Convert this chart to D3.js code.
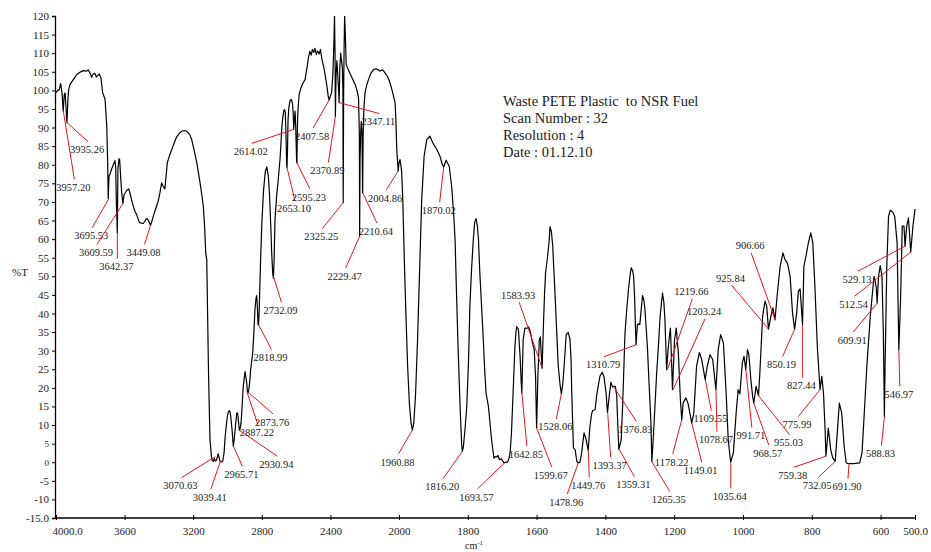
<!DOCTYPE html>
<html>
<head>
<meta charset="utf-8">
<script src="https://cdn.jsdelivr.net/npm/d3@7"></script>
<style>
  body { margin: 0; background: #fff; }
  text { font-family: "Liberation Serif", "Times New Roman", serif; fill: #222; }
</style>
</head>
<body>
<svg id="chart" width="931" height="552"></svg>
<script>
// FTIR spectrum
const wavenumber = [4000,3990,3981,3973,3965,3958,3952,3947,3941,3936,3930,3926,3918,3899,3880,3860,3840,3821,3812,3800,3792,3783,3773,3765,3759,3748,3738,3728,3714,3704,3699,3695.5,3691,3685,3676,3666,3656,3652,3648,3642.4,3639,3633,3629,3622,3616,3609.6,3603,3594,3584,3576,3569,3559,3549,3540,3530,3522,3514,3502,3491,3482,3475,3469,3463,3457,3449,3441,3433,3418,3404,3394,3384,3375,3365,3351,3338,3325,3310,3296,3280,3267,3252,3238,3222,3209,3195,3179,3170,3160,3150,3141,3133,3127,3121,3116,3112,3107,3102,3092,3083,3077,3071,3065,3059,3054,3050,3044,3036,3028,3020,3015,3008,3001,2995,2990,2985,2981,2973,2966,2960,2954,2946,2942,2939,2935,2931,2926,2921,2915,2908,2898,2893,2888,2884,2880,2876,2873,2869,2865,2853,2846,2840,2834,2830,2826,2822,2819,2815,2811,2807,2800,2790,2780,2771,2762,2755,2748,2742,2736,2732,2728,2723,2713,2704,2694,2689,2684,2677,2671,2667,2663,2659,2655,2653,2650,2647,2642,2636,2630,2626,2621,2617,2614,2610,2606,2602,2597,2595,2593,2591,2586,2582,2575,2568,2558,2548,2535,2528,2520,2512,2505,2497,2490,2482,2475,2465,2458,2450,2440,2430,2420,2413,2407.6,2400,2393,2386,2380,2376,2373,2371,2367,2362,2357,2352,2349,2345,2340,2335,2330,2327,2325.3,2323,2320,2317,2313,2308,2300,2285,2270,2255,2245,2236,2231,2229.5,2227,2223,2220,2216,2212,2209,2205,2198,2188,2178,2165,2150,2135,2120,2111,2095,2082,2068,2056,2046,2037,2023,2018,2013,2008,2004.9,2000,1997,1994,1992,1989,1985,1980,1975,1970,1965,1961,1957,1952,1946,1940,1934,1927,1919,1910,1902,1890,1881,1874,1870,1863,1854,1847,1844,1840,1837,1833,1828,1822,1818,1816,1813,1808,1803,1798,1794,1789,1784,1780,1776,1772,1769,1765,1760,1755,1751,1747,1743,1740,1736,1731,1724,1720,1716,1712,1708,1702,1695,1690,1685,1681,1677,1673,1670,1666,1663,1660,1658,1653,1648,1645,1643,1639,1634,1628,1623,1618,1614,1607,1603,1600,1596,1592,1589,1587,1584,1580,1577,1574,1568,1564,1561,1557,1553,1551,1547,1542,1537,1532,1528,1524,1520,1514,1508,1503,1500,1498,1493,1488,1483,1479,1474,1469,1466,1462,1456,1450,1445,1440,1437,1430,1425,1421,1416,1409,1404,1398,1394,1389,1384,1379,1376,1371,1367,1364,1361,1354,1350,1343,1338,1333,1328,1325,1321,1318,1315,1313,1311,1307,1303,1300,1296,1292,1288,1285,1278,1273,1268,1265,1261,1256,1251,1246,1241,1234,1230,1227,1222,1218,1215,1211,1208,1205,1199,1194,1188,1182,1178,1174,1166,1160,1149,1143,1135,1127,1120,1110,1104,1096,1088,1078.7,1072,1065,1057,1049,1043,1036,1028,1020,1014,1009,1002,997,992,987,983,977,972,968.6,962,955,951,943,936,931,926,919,913,907,900,892,884,878,871,863,856,850,844,839,834,827,823,817,810,803,797,791,784,776,771,766,761,759,752,745,739,732,726,720,713,706,700,692,679,661,654,648,640,630,622,619,613,610,606,601,596,592,589,587,582,577,572,564,559,552,547,542,537,532,529,524,519,512.5,506,500];
const transmittance = [99.4,100.0,100.2,101.8,99.4,94.4,98.8,99.3,95,91.3,98,100.2,101.6,102.9,104.2,104.9,105.3,105.2,105.5,104.5,103.5,104.4,104.6,103.6,103.9,104.4,103.4,99.4,97.6,90.4,81.4,70.8,76.9,77.5,78.8,80,81.1,79.5,70,61.7,78.7,81.6,81.5,76,72,69.6,72,72.6,73.3,73.5,72.4,70.5,68.8,67.5,66.6,65.5,64.5,64.3,64.2,64.8,65.4,65.5,65.2,64.6,63.7,64.8,66.1,68.3,70.2,72.5,75.1,74.2,73.5,80.5,82.5,84.1,86,87.5,88.5,89,89.2,89,88.3,86.8,84,80.5,78,75.1,72,68.8,63,56.3,54.5,40,27.6,16,6,0.7,0.2,1.1,0.3,0.5,1.4,2.3,1.5,0.2,0.1,0.2,2.5,6,9.5,12.3,13.5,13.9,13.4,12.3,8.5,4.3,6.5,9.6,13.2,13.3,12.5,10.5,8.6,9.2,10.5,15,20.4,24.4,23,21.3,19.2,18.6,19.5,20.4,22.5,24.9,29.4,35,41,44,44.8,42,37,36.9,41,48,54.5,64,73,78,79.4,77,72,64,56,50.5,49.5,55,65.3,72,76,81.4,85,89.5,93,94.7,94.8,94,88,80,79.2,84,92.2,95.5,97.1,97.6,97.4,96.3,94,89.5,92,94.4,90,81,80.5,88,93,96.8,98.9,100.2,101.1,102.1,102.9,106.5,108.8,110.5,109.5,111,110.2,111.3,109.6,110.6,109.8,111,108.5,106.5,104,101,98.5,97.4,98.5,99.4,104,112,120,110,93,104,108,104,100,96.7,106,110,108,106,100,69.8,98,112,120,115,107,106,104.5,103,101.5,100,98,88,60.8,82,89,91.7,89,72.4,88,95,99.4,101.5,102.9,104.5,105.5,105.8,105.5,105.2,105.5,104.7,103.8,102.5,101,99.4,96.7,92,84.1,80.5,78.3,80.5,81.4,79.5,77.8,70.6,56,40,26,16,10.5,8.7,10.5,18,33,52,70.6,82.3,86.8,87.7,85.9,84.1,82.3,80,79.4,81.2,79.6,74.2,70.6,65,59.9,46,30,14,5,2.9,4,9,15,27,41.9,52,59.9,64.5,65.5,63.5,59.9,50.9,42,33,25,18.6,16.5,15,11,6.1,1.1,1.5,1.4,1.8,0.7,0.9,-0.2,0,0,0.8,2.5,8,15,24,31.2,35,36.5,35.8,28.5,22,18.6,33,36.1,36,36.4,35,33,30.3,23,9.2,24,33,33.7,30,25.3,37.4,45,50.9,55.4,59,63.3,62,58,54,46.4,36,25.8,21,18.4,21,25.8,34.3,34.9,33,28,19.5,3.8,3.4,0.2,-0.2,0,2.5,5,7.9,6.1,3.2,9.6,13,13.9,14.1,18.2,20.4,23.1,24.2,22.9,18.6,13.4,17.7,21.5,20.2,20.4,20.4,17.7,10,3.4,6.1,15,34.8,41,46.4,50.5,52.3,51.5,50,44,37.5,31.6,37,37.2,37,41,44.8,43.5,41,31.2,21,11.4,0.2,6.1,15,24,31,39.2,45.5,43,38.3,24.9,30,33,36.1,28,19.5,33,36.1,29.4,16.8,11.4,15.9,17.3,15.9,10.5,13.2,25.8,29.5,27.6,22.2,25.8,28.9,27.6,19.5,30.3,34.3,32.1,18.6,6.1,0,2.5,13.2,19.5,18.4,26.7,28.5,24.9,30.3,29,22,17.7,15.9,20.4,17.9,24,39.2,43.3,41.9,35.8,39.2,41.5,38.3,45.5,52.7,56.3,54.5,53.6,50,40.1,35.7,40.1,46,46.6,37,52.7,55.4,59,61.7,59,47.3,31.2,19.5,23.1,18.6,7.9,1.6,9.2,3.4,1.1,0.2,7.9,15.9,13.2,4.3,-0.2,-0.4,-0.4,-0.2,2.5,12.3,25.8,39.2,47.3,50,47.3,42.8,50,52.9,50,34.8,12.3,25.8,52.7,66.1,67.8,67.2,66.1,59,30.3,43.7,63.5,63.5,58.1,63.5,65.7,56.5,63.5,68.1];

// labelled peaks
const peakLabels = ["3957.20","3935.26","3695.53","3642.37","3609.59","3449.08","3070.63","3039.41","2965.71","2930.94","2887.22","2873.76","2818.99","2732.09","2653.10","2614.02","2595.23","2407.58","2370.89","2347.11","2325.25","2229.47","2210.64","2004.86","1960.88","1870.02","1816.20","1693.57","1642.85","1599.67","1583.93","1528.06","1478.96","1449.76","1393.37","1376.83","1359.31","1310.79","1265.35","1219.66","1203.24","1178.22","1149.01","1109.55","1078.67","1035.64","991.71","968.57","955.03","925.84","906.66","850.19","827.44","775.99","759.38","732.05","691.90","609.91","588.83","546.97","529.13","512.54"];
const peakT = [94.4,91.3,70.6,61.7,69.6,63.7,1.5,0.5,4.3,8.6,19,18.6,37,50,79.2,89.5,80.5,97.4,93,96.7,69.8,60.8,72.4,78.3,8.7,79.4,2.9,-0.2,18.6,9.2,25.3,18.4,-0.2,3.2,13.4,20.4,3.4,31.6,0.2,24.9,19.5,11.4,10.5,22.2,19.5,0,24.9,15.9,17.9,35.8,38.3,35.7,37,19.5,1.6,0.2,-0.4,42.8,12.3,30.3,58.1,56.5];

const yTicks = d3.range(-15, 121, 5);
const xTicks = [4000, 3600, 3200, 2800, 2400, 2000, 1800, 1600, 1400, 1200, 1000, 800, 600, 500];
const infoLines = ["Waste PETE Plastic  to NSR Fuel", "Scan Number : 32", "Resolution : 4", "Date : 01.12.10"];

// where each peak's text sits, relative to the peak (px)
const labelOffsets = [[10,76],[20,27],[-17,36],[-1,34],[-27,49],[-7,27],[-35,29],[-11,37],[8,28],[37,34],[10,41],[23,29],[12,33],[7,34],[7,41],[-43,22],[12,34],[-17,36],[-8,54],[39,19],[-22,34],[-15,40],[13,38],[-13,27],[-15,32],[-5,43],[-20,35],[-28,34],[4,61],[14,47],[-24,-73],[-6,33],[-12,39],[0,35],[2,53],[22,43],[14,35],[-33,20],[17,38],[24,-78],[31,-78],[-10,42],[9,47],[5,39],[0,50],[-1,34],[5,66],[14,50],[30,47],[-38,-51],[-25,-74],[-13,35],[-1,61],[-23,35],[-33,19],[-18,24],[-2,23],[-25,37],[-4,37],[0,45],[-48,33],[-57,52]];

const svg = d3.select("#chart");
const plotLeft = 55, plotRight = 915, plotTop = 16, plotBottom = 518;

// the instrument doubles the scale below 2000 cm-1
const x = d3.scaleLinear().domain([4000, 2000, 500]).range([56, 399, plotRight]);
const y = d3.scaleLinear().domain([-15, 120]).range([plotBottom, plotTop]);

svg.append("clipPath").attr("id", "plot")
  .append("rect").attr("x", plotLeft).attr("y", plotTop).attr("width", plotRight - plotLeft + 2).attr("height", plotBottom - plotTop);

// axes
const yAxis = svg.append("g").attr("transform", `translate(${plotLeft},0)`)
  .call(d3.axisLeft(y).tickValues(yTicks).tickSize(3).tickFormat(d => d === -15 ? "-15.0" : d));
yAxis.select(".domain").attr("stroke", "#000").attr("stroke-width", 1.3);
yAxis.selectAll("text").attr("font-size", d => (d === 0 || d === 5) ? 9 : 11).attr("x", -6)
  .style("font-family", '"Liberation Serif", serif').attr("fill", "#222");

const xAxis = svg.append("g").attr("transform", `translate(0,${plotBottom})`)
  .call(d3.axisBottom(x).tickValues(xTicks).tickSize(3).tickPadding(6)
    .tickFormat(d => (d === 4000 || d === 500) ? d.toFixed(1) : d));
xAxis.select(".domain").attr("d", `M${plotLeft},0H${plotRight + 1}`).attr("stroke", "#000").attr("stroke-width", 1.5);
xAxis.selectAll(".tick line").attr("y1", -3).attr("y2", 2);
xAxis.selectAll("text").attr("font-size", 11).style("font-family", '"Liberation Serif", serif').attr("fill", "#222");
xAxis.selectAll(".tick").filter(d => d === 4000).select("text").attr("dx", 11);

svg.append("text").attr("x", 12).attr("y", 276).attr("font-size", 11).text("%T");
const unit = svg.append("text").attr("x", 465).attr("y", 549).attr("font-size", 10).text("cm");
unit.append("tspan").attr("dy", -4).attr("font-size", 7).text("-1");

// spectrum
const line = d3.line().defined(d => d[1] != null).x(d => x(d[0])).y(d => y(d[1]));
svg.append("path")
  .datum(wavenumber.map((w, i) => [w, transmittance[i]]))
  .attr("clip-path", "url(#plot)")
  .attr("fill", "none")
  .attr("stroke", "#000")
  .attr("stroke-width", 1.2)
  .attr("stroke-linejoin", "round")
  .attr("d", line);

// peak labels with leader lines
const peaks = svg.append("g");
peakLabels.forEach((lab, i) => {
  const px = x(+lab), py = y(peakT[i]);
  const [dx, dy] = labelOffsets[i];
  const tx = px + dx, ty = py + dy;
  peaks.append("line")
    .attr("x1", px).attr("y1", py)
    .attr("x2", tx + 1).attr("y2", dy > 0 ? ty - 8 : ty + 7)
    .attr("stroke", "#e8161b").attr("stroke-width", 1);
  peaks.append("text")
    .attr("x", tx).attr("y", ty).attr("dy", "0.35em")
    .attr("text-anchor", "middle").attr("font-size", 10.5)
    .text(lab);
});

// scan info
svg.append("g").selectAll("text").data(infoLines).join("text")
  .attr("x", 503).attr("y", (d, i) => 106 + i * 17)
  .attr("font-size", 14.5)
  .style("white-space", "pre")
  .text(d => d);
</script>
</body>
</html>
